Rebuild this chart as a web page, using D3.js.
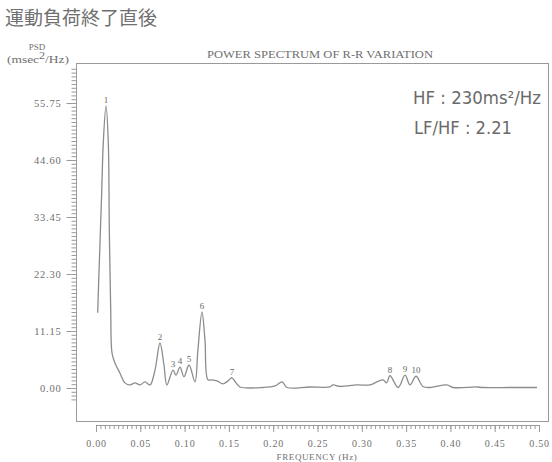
<!DOCTYPE html>
<html>
<head>
<meta charset="utf-8">
<script src="https://cdn.jsdelivr.net/npm/d3@7"></script>
<style>
  html, body { margin: 0; padding: 0; background: #fff; }
  svg { display: block; }
</style>
</head>
<body>
<svg id="chart" width="552" height="462"></svg>
<script>
// Power spectrum of R-R intervals right after exercise
const freq = [0.0019, 0.0026, 0.0064, 0.0082, 0.0113, 0.0139, 0.0150, 0.0166, 0.0181, 0.0214,
  0.0271, 0.0327, 0.0384, 0.0440, 0.0497, 0.0553, 0.0610, 0.0666, 0.0722, 0.0767,
  0.0800, 0.0869, 0.0903, 0.0948, 0.0993, 0.1050, 0.1117, 0.1150, 0.1196, 0.1230,
  0.1264, 0.1310, 0.1366, 0.1433, 0.1490, 0.1535, 0.1580, 0.1625, 0.1885, 0.2020,
  0.2100, 0.2156, 0.2415, 0.2640, 0.2675, 0.2754, 0.2946, 0.3093, 0.3170, 0.3240,
  0.3280, 0.3318, 0.3410, 0.3488, 0.3544, 0.3612, 0.3690, 0.3770, 0.3960, 0.4030,
  0.4300, 0.4368, 0.4670, 0.4977];
const psd = [14.7, 18.6, 38.1, 47.9, 55.2, 47.9, 31.5, 15.3, 6.8, 4.9,
  2.9, 1.0, 0.6, 1.0, 0.6, 1.2, 0.6, 3.5, 8.8, 4.5,
  0.6, 3.5, 2.5, 4.1, 2.2, 4.5, 1.2, 7.4, 14.9, 9.4,
  1.6, 1.6, 1.4, 0.8, 1.4, 2.0, 1.0, 0.2, 0.1, 0.4,
  1.2, 0.1, 0.2, 0.2, 0.6, 0.3, 0.6, 0.6, 1.2, 1.6,
  1.0, 2.4, 0.1, 2.5, 0.6, 2.3, 0.3, 0.1, 0.6, 0.1,
  0.2, 0.1, 0.1, 0.1];

// numbered spectral peaks
const peakLabels = ["1", "2", "3", "4", "5", "6", "7", "8", "9", "10"];
const peakFreq = [0.0113, 0.0722, 0.0869, 0.0948, 0.1050, 0.1196, 0.1535, 0.3318, 0.3488, 0.3612];

const yTicks = [0, 11.15, 22.30, 33.45, 44.60, 55.75];
const xTicks = [0, 0.05, 0.10, 0.15, 0.20, 0.25, 0.30, 0.35, 0.40, 0.45, 0.50];

const titleText = "運動負荷終了直後";
const chartTitle = "POWER SPECTRUM OF R-R VARIATION";
const yName = "PSD";
const xName = "FREQUENCY (Hz)";
const hfText = "HF : 230ms²/Hz";
const ratioText = "LF/HF : 2.21";

const ink = "#6f6f6f";
const lineInk = "#8c8c8c";
const serif = "'Liberation Serif', 'DejaVu Serif', serif";

const svg = d3.select("#chart");

const x = d3.scaleLinear().domain([0, 0.5]).range([96, 539]);
const y = d3.scaleLinear().domain([0, 55.75]).range([388, 103]);

const frame = { left: 76.5, top: 63.5, right: 548.5, bottom: 421.5 };

// heading
svg.append("text")
  .attr("x", 5).attr("y", 25)
  .attr("font-family", "'Noto Sans CJK JP', sans-serif")
  .attr("font-size", 19)
  .attr("fill", "#707070")
  .text(titleText);

svg.append("text")
  .attr("x", 37).attr("y", 50)
  .attr("text-anchor", "middle")
  .attr("font-family", serif).attr("font-size", 9)
  .attr("fill", ink)
  .text(yName);

// unit label with a raised 2
const unit = svg.append("text")
  .attr("x", 7).attr("y", 63)
  .attr("font-family", serif).attr("font-size", 10.5)
  .attr("fill", ink)
  .attr("textLength", 62).attr("lengthAdjust", "spacingAndGlyphs");
unit.append("tspan").text("(msec");
unit.append("tspan").attr("dy", -4).attr("font-size", 9.5).text("2");
unit.append("tspan").attr("dy", 4).text("/Hz)");

svg.append("text")
  .attr("x", 320).attr("y", 58)
  .attr("text-anchor", "middle")
  .attr("font-family", serif).attr("font-size", 9.5)
  .attr("textLength", 226).attr("lengthAdjust", "spacingAndGlyphs")
  .attr("fill", ink)
  .text(chartTitle);

// plot frame
svg.append("rect")
  .attr("x", frame.left).attr("y", frame.top)
  .attr("width", frame.right - frame.left)
  .attr("height", frame.bottom - frame.top)
  .attr("fill", "none")
  .attr("stroke", "#9a9a9a")
  .attr("stroke-width", 1);

// y axis: minor ticks
const yMinor = d3.range(-3, 86).map(i => i * 11.15 / 15).filter(v => y(v) > frame.top + 2 && y(v) < 400);
const yMinorAxis = d3.axisLeft(y).tickValues(yMinor).tickSize(5).tickSizeOuter(0).tickFormat("");
svg.append("g")
  .attr("transform", `translate(${frame.left},0)`)
  .call(yMinorAxis)
  .call(g => g.select(".domain").remove())
  .call(g => g.selectAll("line").attr("stroke", "#9a9a9a"));

// y axis: labelled ticks
const yAxis = d3.axisLeft(y).tickValues(yTicks).tickSize(10).tickPadding(5)
  .tickFormat(d3.format(".2f"));
svg.append("g")
  .attr("transform", `translate(${frame.left},0)`)
  .call(yAxis)
  .call(g => g.select(".domain").remove())
  .call(g => g.selectAll("line").attr("stroke", "#9a9a9a"))
  .call(g => g.selectAll("text")
    .attr("font-family", serif).attr("font-size", 10.5)
    .attr("letter-spacing", 0.8)
    .attr("fill", ink));

// x axis below the frame
const xAxisY = 425;
const xMinor = d3.range(0, 101).map(i => i * 0.005);
svg.append("g")
  .attr("transform", `translate(0,${xAxisY})`)
  .call(d3.axisBottom(x).tickValues(xMinor).tickSize(4).tickSizeOuter(0).tickFormat(""))
  .call(g => g.select(".domain").attr("stroke", "#9a9a9a"))
  .call(g => g.selectAll("line").attr("stroke", "#9a9a9a"));

svg.append("g")
  .attr("transform", `translate(0,${xAxisY})`)
  .call(d3.axisBottom(x).tickValues(xTicks).tickSize(7).tickPadding(8)
    .tickFormat(d3.format(".2f")))
  .call(g => g.select(".domain").remove())
  .call(g => g.selectAll("line").attr("stroke", "#9a9a9a"))
  .call(g => g.selectAll("text")
    .attr("font-family", serif).attr("font-size", 10)
    .attr("letter-spacing", 0.8)
    .attr("fill", ink));

svg.append("text")
  .attr("x", 317).attr("y", 460)
  .attr("text-anchor", "middle")
  .attr("font-family", serif).attr("font-size", 9)
  .attr("letter-spacing", 0.6)
  .attr("fill", ink)
  .text(xName);

// spectrum curve
const points = freq.map((f, i) => [f, psd[i]]);
const line = d3.line()
  .x(d => x(d[0]))
  .y(d => y(d[1]))
  .curve(d3.curveCatmullRom.alpha(0.5));

svg.append("path")
  .datum(points)
  .attr("d", line)
  .attr("fill", "none")
  .attr("stroke", lineInk)
  .attr("stroke-width", 1.3)
  .attr("stroke-linejoin", "round");

// peak numbers
svg.append("g")
  .selectAll("text")
  .data(peakLabels)
  .join("text")
  .attr("x", (d, i) => x(peakFreq[i]))
  .attr("y", (d, i) => y(psd[freq.indexOf(peakFreq[i])]) - 3)
  .attr("text-anchor", "middle")
  .attr("font-family", serif)
  .attr("font-size", 9)
  .attr("fill", "#666")
  .text(d => d);

// HF and LF/HF annotations
svg.append("text")
  .attr("x", 413).attr("y", 104)
  .attr("font-family", "'DejaVu Sans', sans-serif")
  .attr("font-size", 17)
  .attr("textLength", 128).attr("lengthAdjust", "spacingAndGlyphs")
  .attr("fill", "#6a6a6a")
  .text(hfText);

svg.append("text")
  .attr("x", 414).attr("y", 134)
  .attr("font-family", "'DejaVu Sans', sans-serif")
  .attr("font-size", 17)
  .attr("textLength", 98).attr("lengthAdjust", "spacingAndGlyphs")
  .attr("fill", "#6a6a6a")
  .text(ratioText);
</script>
</body>
</html>
